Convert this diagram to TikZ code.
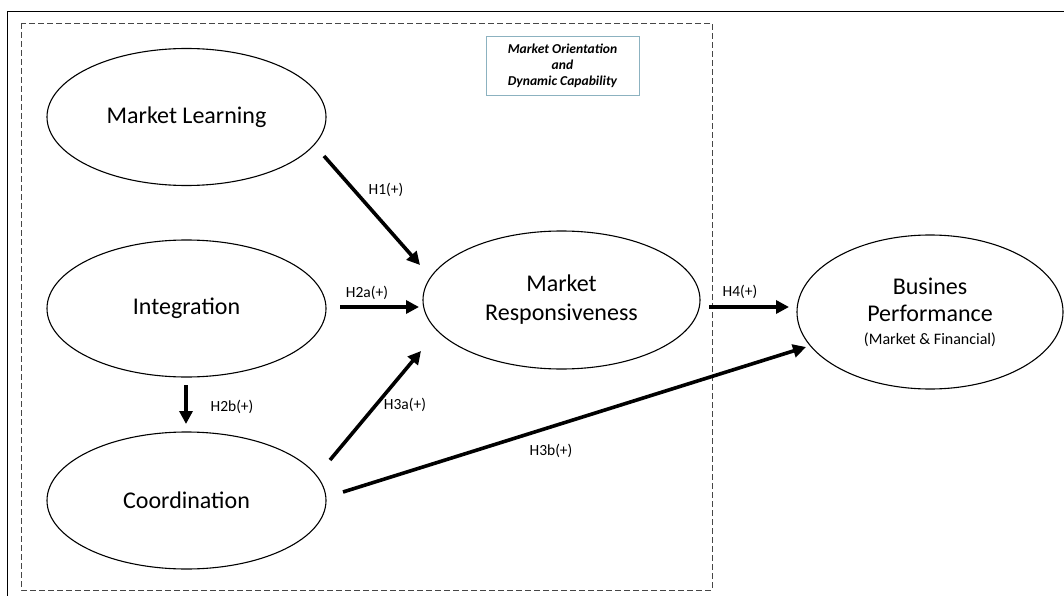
\documentclass[tikz,border=0pt]{standalone}
\usepackage{fontspec}
\setmainfont{Carlito}
\usetikzlibrary{shapes.geometric,arrows.meta}
\definecolor{legendline}{RGB}{140,178,192}
\definecolor{dashline}{RGB}{70,70,70}
\begin{document}
\begin{tikzpicture}[x=1pt,y=-1pt,
  oval/.style={ellipse,draw,line width=1.1pt,inner sep=0pt,align=center,font=\fontsize{24}{29}\selectfont},
  conn/.style={line width=3.6pt,-{Triangle[length=13pt,width=13pt]}},
  lbl/.style={font=\fontsize{15.5}{18}\selectfont,inner sep=1pt}]
\useasboundingbox (0,0) rectangle (1064,596);
\draw[line width=0.9pt] (7,11.7) rectangle (1075,610);
\draw[dash pattern=on 6pt off 3pt,line width=0.7pt,dashline] (21,23) rectangle (712,590);
\node[draw=legendline,line width=0.7pt,minimum width=153pt,minimum height=59pt,align=center,
  font=\fontsize{13.6}{16}\selectfont\bfseries\itshape] (legend) at (562.5,65.5)
  {Market Orientation\\and\\Dynamic Capability};
\node[oval,minimum width=279pt,minimum height=137pt] (ml) at (186.5,117) {Market Learning};
\node[oval,minimum width=279pt,minimum height=137pt] (ig) at (186.5,308.5) {Integration};
\node[oval,minimum width=279pt,minimum height=137pt] (co) at (186.5,500.5) {Coordination};
\node[oval,minimum width=277pt,minimum height=138pt] (mr) at (561.5,300) {Market\\Responsiveness};
\node[oval,minimum width=266pt,minimum height=154pt] (bp) at (930,312)
  {Busines\\[-2pt]Performance\\[-6pt]{\fontsize{16}{19}\selectfont(Market \& Financial)}};
\coordinate (h1s) at (324,156); \coordinate (h1e) at (420,265);
\coordinate (h2as) at (340,307); \coordinate (h2ae) at (419,307);
\coordinate (h2bs) at (186,385); \coordinate (h2be) at (186,424);
\coordinate (h3as) at (330,460); \coordinate (h3ae) at (421,351);
\coordinate (h3bs) at (343,492); \coordinate (h3be) at (806,347);
\coordinate (h4s) at (709,307); \coordinate (h4e) at (789,307);
\draw[conn] (h1s) -- (h1e);
\draw[conn] (h2as) -- (h2ae);
\draw[conn] (h2bs) -- (h2be);
\draw[conn] (h3as) -- (h3ae);
\draw[conn] (h3bs) -- (h3be);
\draw[conn] (h4s) -- (h4e);
\node[lbl] (l1) at (386,190) {H1(+)};
\node[lbl] (l2a) at (367,293) {H2a(+)};
\node[lbl] (l2b) at (232,407) {H2b(+)};
\node[lbl] (l3a) at (405,405) {H3a(+)};
\node[lbl] (l3b) at (551,451) {H3b(+)};
\node[lbl] (l4) at (740,292) {H4(+)};
\end{tikzpicture}
\end{document}
